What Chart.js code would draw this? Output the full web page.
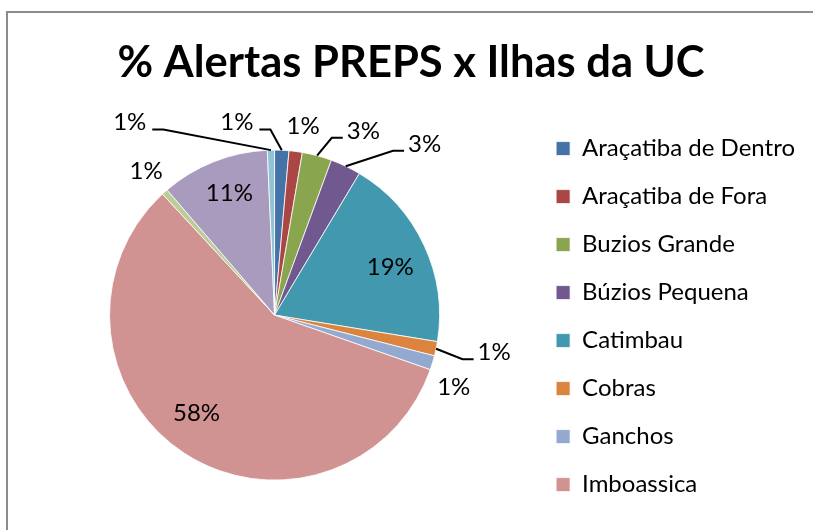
<!DOCTYPE html>
<html>
<head>
<meta charset="utf-8">
<script src="https://cdn.jsdelivr.net/npm/chart.js@4.4.1/dist/chart.umd.min.js"></script>
<style>
    html, body { margin: 0; padding: 0; background: #ffffff; overflow: hidden; width: 813px; height: 530px; }
    .edge { position: absolute; background: #8c8c8c; }
    #box { position: absolute; left: 8px; top: 13px; width: 828px; height: 517px; }
</style>
</head>
<body>
<div class="edge" style="left:6px; top:11px; width:807px; height:2px;"></div>
<div class="edge" style="left:6px; top:11px; width:2px; height:519px;"></div>
<div id="box"><canvas id="alertChart"></canvas></div>
<script>
// islands (only the first 8 show up in the legend, like the original)
const islands = [
    "Araçatiba de Dentro", "Araçatiba de Fora", "Buzios Grande", "Búzios Pequena",
    "Catimbau", "Cobras", "Ganchos", "Imboassica",
    "Ilha 9", "Ilha 10", "Ilha 11"
];
// share of PREPS alerts per island (%)
const alertShare = [1.4, 1.3, 2.9, 3.0, 19.0, 1.4, 1.4, 57.8, 0.6, 10.6, 0.7];

const sliceColors = [
    "#4572a7", "#aa4643", "#89a54e", "#71588f", "#4198af", "#db843d",
    "#93a9cf", "#d19392", "#b9cd96", "#a99bbd", "#92c3d4"
];

// label placement: angle shift (deg) from slice middle, distance as fraction of radius
const labelShift = [-13.6, 1.2, 10.8, 15.7, 2.3, -2.2, 5, 5.2, 0, 1.3, -35.7];
const labelDist  = [1.19, 1.16, 1.24, 1.38, 0.76, 1.35, 1.17, 0.76, 1.17, 0.79, 1.46];
const labelLeader = [true, false, true, true, false, true, false, false, false, false, true];

const legendCount = 8;

const pieLabels = {
    id: "pieLabels",
    afterDatasetsDraw(chart) {
        const ctx = chart.ctx;
        const meta = chart.getDatasetMeta(0);
        const total = alertShare.reduce((s, v) => s + v, 0);
        ctx.save();
        ctx.font = "24px Lato";
        ctx.fillStyle = "#000000";
        ctx.strokeStyle = "#000000";
        ctx.lineWidth = 2;
        ctx.textAlign = "center";
        ctx.textBaseline = "middle";
        meta.data.forEach((arc, i) => {
            const p = arc.getProps(["x", "y", "startAngle", "endAngle", "outerRadius"], true);
            const mid = (p.startAngle + p.endAngle) / 2;
            const a = mid + labelShift[i] * Math.PI / 180;
            const r = p.outerRadius * labelDist[i];
            const lx = p.x + Math.cos(a) * r;
            const ly = p.y + Math.sin(a) * r;
            const text = Math.round(alertShare[i] / total * 100) + "%";
            ctx.fillText(text, lx, ly);

            if (labelLeader[i]) {
                const sx = p.x + Math.cos(mid) * p.outerRadius;
                const sy = p.y + Math.sin(mid) * p.outerRadius;
                const w = ctx.measureText(text).width;
                const toRight = lx > sx;
                const ex = toRight ? lx - w / 2 - 4 : lx + w / 2 + 6;
                const ey = ly + 7;
                const kx = toRight ? ex - 11 : ex + 11;
                ctx.beginPath();
                ctx.moveTo(sx, sy);
                ctx.lineTo(kx, ey);
                ctx.lineTo(ex, ey);
                ctx.stroke();
            }
        });
        ctx.restore();
    }
};

new Chart(document.getElementById("alertChart"), {
    type: "pie",
    data: {
        labels: islands,
        datasets: [{
            data: alertShare,
            backgroundColor: sliceColors,
            borderColor: "#ffffff",
            borderWidth: 0.8
        }]
    },
    options: {
        responsive: true,
        maintainAspectRatio: false,
        animation: false,
        radius: 165,
        layout: { padding: { left: 9, right: 31, top: 0, bottom: 8 } },
        plugins: {
            title: {
                display: true,
                text: "% Alertas PREPS x Ilhas da UC",
                color: "#000000",
                font: { family: "Lato", size: 43.5, weight: "bold" },
                padding: { top: 24, bottom: 19 }
            },
            legend: {
                position: "right",
                align: "start",
                fullSize: false,
                title: { display: true, text: " ", font: { size: 2 }, padding: 1 },
                labels: {
                    color: "#000000",
                    font: { family: "Lato", size: 24 },
                    boxWidth: 14,
                    boxHeight: 14,
                    padding: 24,
                    filter: item => item.index < legendCount
                }
            },
            tooltip: { enabled: false }
        }
    },
    plugins: [pieLabels]
});
</script>
</body>
</html>
